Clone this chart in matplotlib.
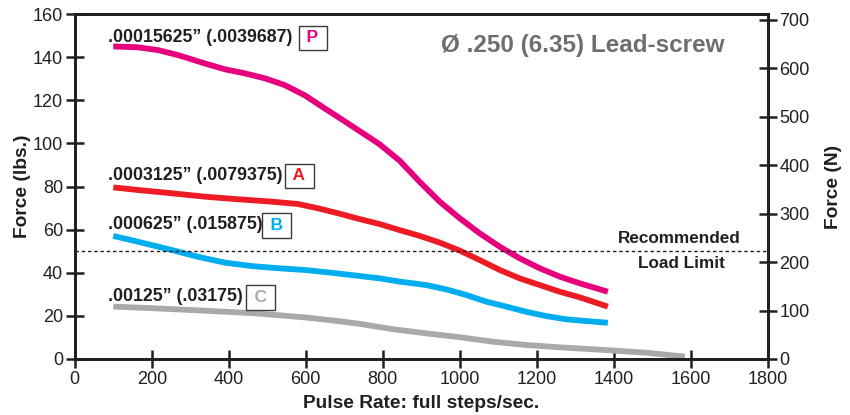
import numpy as np
import matplotlib.pyplot as plt

plt.rcParams['font.family'] = ['Liberation Sans', 'DejaVu Sans']

# pulse rate (full steps/sec) vs force (lbs)
rate_p = [100, 164, 216, 268, 338, 390, 442, 494, 545, 597, 649, 701, 753, 792, 844,
          896, 948, 1000, 1052, 1104, 1156, 1208, 1260, 1312, 1385]
force_p = [145, 144.6, 143.3, 141, 137.1, 134.4, 132.5, 130.2, 127.1, 122.4, 116.3, 110.3,
           104.2, 99.6, 92.0, 82.2, 73, 65.3, 58.3, 52.1, 46.7, 42.1, 38.2, 35.1, 31.2]

rate_a = [100, 164, 251, 338, 424, 511, 580, 632, 684, 736, 792, 844, 896, 948, 1000,
          1052, 1104, 1156, 1208, 1260, 1312, 1385]
force_a = [79.6, 78.4, 76.9, 75.3, 74.1, 73.0, 71.9, 69.9, 67.6, 65.1, 62.6, 59.8, 57.1,
           54.0, 50.3, 45.9, 41.3, 37.4, 34.3, 31.2, 28.6, 24.3]

rate_b = [100, 164, 251, 320, 390, 459, 528, 597, 667, 740, 792, 844, 913, 965, 1017,
          1069, 1121, 1173, 1225, 1277, 1329, 1385]
force_b = [57.1, 54.4, 50.6, 47.4, 44.7, 43.1, 42.1, 41.3, 40.0, 38.5, 37.4, 35.9, 34.3,
           32.3, 29.7, 26.6, 24.3, 21.9, 19.9, 18.4, 17.6, 16.8]

rate_c = [100, 208, 338, 468, 597, 684, 740, 827, 913, 1000, 1087, 1173, 1260, 1346,
          1416, 1485, 1585]
force_c = [24.3, 23.5, 22.4, 21.2, 19.3, 17.6, 16.3, 13.8, 11.9, 10.1, 8.0, 6.5, 5.4, 4.5,
           3.7, 2.9, 1.1]

labels = ['.00015625\u201d (.0039687)', '.0003125\u201d (.0079375)',
          '.000625\u201d (.015875)', '.00125\u201d (.03175)']
letters = ['P', 'A', 'B', 'C']
colors = ['#E6007E', '#ED1C24', '#00AEEF', '#A7A9AC']

load_limit = 50
LBS_TO_N = 4.448
ink = '#231F20'

fig = plt.figure(figsize=(8.5, 4.15), dpi=100)
ax = fig.add_axes([0.088, 0.135, 0.815, 0.831])

series = [(rate_p, force_p), (rate_a, force_a), (rate_b, force_b), (rate_c, force_c)]
for (x, y), c in zip(series, colors):
    ax.plot(x, y, color=c, lw=4.2, solid_capstyle='butt', solid_joinstyle='round')

ax.axhline(load_limit, color=ink, lw=1.0, ls=(0, (2.5, 2)))

# curve labels with boxed letters
lab_y = [149.3, 85.3, 62.2, 28.8]
box_x = [618, 583, 525, 483]
for txt, let, c, ly, bx in zip(labels, letters, colors, lab_y, box_x):
    ax.text(86, ly, txt, ha='left', va='center', fontsize=12.8, fontweight='bold', color=ink)
    ax.text(bx, ly - 0.3, '\u2009' + let + '\u2009', ha='center', va='center', fontsize=12.5,
            fontweight='bold', color=c,
            bbox=dict(boxstyle='square,pad=0.27', fc='white', ec='#3a3a3a', lw=1.0))

ax.text(1688, 145.6, '\u00d8 .250 (6.35) Lead-screw', ha='right', va='center',
        fontsize=17.5, fontweight='bold', color='#6D6E71')
ax.text(1571, 56.1, 'Recommended', ha='center', va='center', fontsize=12.3, fontweight='bold', color=ink)
ax.text(1577, 44.1, 'Load Limit', ha='center', va='center', fontsize=12.3, fontweight='bold', color=ink)

ax.set_xlim(0, 1800)
ax.set_ylim(0, 160)
ax.set_xticks(np.arange(0, 1801, 200))
ax.set_yticks(np.arange(0, 161, 20))
ax.set_xlabel('Pulse Rate: full steps/sec.', fontsize=13.8, fontweight='bold', color=ink, labelpad=5)
ax.set_ylabel('Force (lbs.)', fontsize=13.8, fontweight='bold', color=ink, labelpad=1.5)

ax2 = ax.twinx()
ax2.set_ylim(0, 160 * LBS_TO_N)
ax2.set_yticks(np.arange(0, 701, 100))
ax2.set_ylabel('Force (N)', fontsize=13.8, fontweight='bold', color=ink, labelpad=11)

for a in (ax, ax2):
    for s in a.spines.values():
        s.set_linewidth(2.0)
        s.set_color(ink)
    a.tick_params(direction='inout', length=13, width=1.8, color=ink, labelsize=13,
                  labelcolor=ink, pad=2)

fig.savefig('out.png', dpi=100)
